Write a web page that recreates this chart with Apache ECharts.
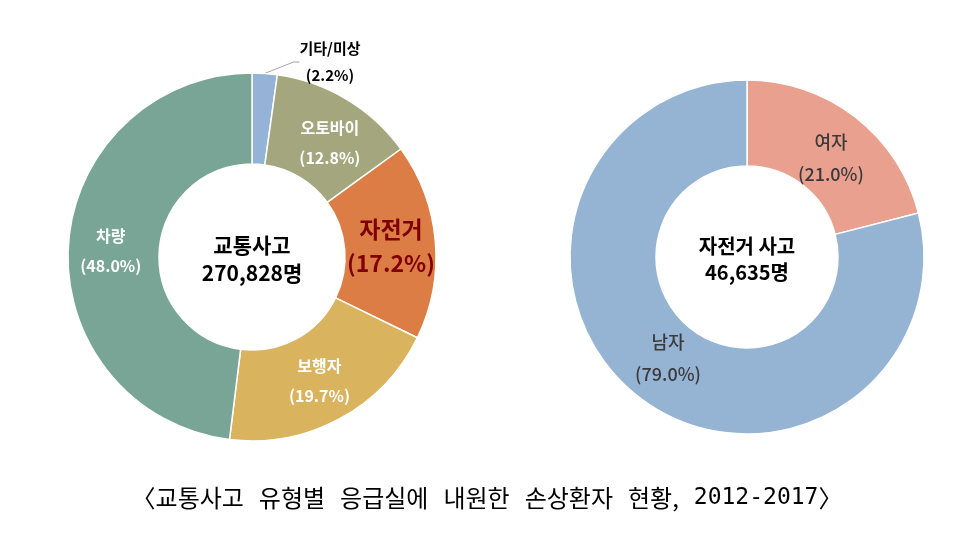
<!DOCTYPE html>
<html><head><meta charset="utf-8">
<script src="https://cdn.jsdelivr.net/npm/echarts@6/dist/echarts.min.js"></script>
<style>html,body{margin:0;padding:0;background:#fff}#c{width:974px;height:533px}</style>
</head><body><div id="c"></div>
<script>
const leftCategories = ['기타/미상','오토바이','자전거','보행자','차량'];
const leftValues = [2.2, 12.8, 17.2, 19.7, 48.0];
const leftColors = ['#95B3D7','#A4A77D','#DD7D46','#D9B35E','#79A597'];
const leftCenterTitle = '교통사고';
const leftCenterTotal = '270,828명';
const rightCategories = ['여자','남자'];
const rightValues = [21.0, 79.0];
const rightColors = ['#E9A08F','#95B3D3'];
const rightCenterTitle = '자전거 사고';
const rightCenterTotal = '46,635명';
const captionWords = ['〈교통사고', '유형별', '응급실에', '내원한', '손상환자', '현황,'];
const captionYears = '2012-2017';
const captionEnd = '〉';

const FONT = '"Noto Sans CJK KR", "Noto Sans", sans-serif';
const chart = echarts.init(document.getElementById('c'));

const fmt = p => p.name + '\n(' + p.value.toFixed(1) + '%)';

const leftData = leftCategories.map((n, i) => {
  const d = { name: n, value: leftValues[i], itemStyle: { color: leftColors[i] } };
  if (i === 0) {
    d.label = { position: 'outside', color: '#000', fontSize: 15, fontWeight: 'bold', lineHeight: 27 };
    d.labelLine = { show: true, length: 6, length2: 6, lineStyle: { color: '#a6a6a6', width: 1 } };
  } else if (n === '자전거') {
    d.label = { color: '#7F0000', fontSize: 23, fontWeight: 'bold', lineHeight: 34 };
  }
  return d;
});
const rightData = rightCategories.map((n, i) => ({ name: n, value: rightValues[i], itemStyle: { color: rightColors[i] } }));

const leftShift = { 1: [5, 7], 2: [-2, 1], 4: [0, 3] };
const rightShift = { 0: [0, 9], 1: [5, -7] };

const captionRich = captionWords.map(w => '{h|' + w + '}').join('{g| }') + '{g| }{d|' + captionYears + '}{h|' + captionEnd + '}';

chart.setOption({
  animation: false,
  title: {
    text: captionRich, left: 'center', top: 478,
    textStyle: {
      fontWeight: 'normal',
      rich: {
        h: { fontFamily: FONT, fontSize: 24, fontWeight: 'normal', color: '#000', height: 30 },
        g: { width: 15, fontSize: 21, fontWeight: 'normal', height: 30 },
        d: { fontFamily: '"DejaVu Sans Mono", monospace', fontSize: 23, fontWeight: 'normal', color: '#000', height: 30 }
      }
    }
  },
  graphic: [
    { type: 'text', x: 252, y: 259, style: { text: leftCenterTitle + '\n' + leftCenterTotal, textAlign: 'center', textVerticalAlign: 'middle', font: 'bold 21px ' + FONT, lineHeight: 28, fill: '#000' } },
    { type: 'text', x: 747, y: 259, style: { text: rightCenterTitle + '\n' + rightCenterTotal, textAlign: 'center', textVerticalAlign: 'middle', font: 'bold 20px ' + FONT, lineHeight: 26, fill: '#000' } }
  ],
  series: [
    {
      type: 'pie', center: [252, 257], radius: [93, 184], startAngle: 90, clockwise: true,
      itemStyle: { borderColor: '#fff', borderWidth: 1.5 },
      label: { position: 'inside', formatter: fmt, color: '#fff', fontFamily: FONT, fontSize: 16, fontWeight: 'bold', lineHeight: 30 },
      labelLine: { show: false },
      labelLayout: function (p) {
        if (p.dataIndex === 0) return { x: 330, y: 62, align: 'center', verticalAlign: 'middle' };
        const s = leftShift[p.dataIndex];
        return s ? { dx: s[0], dy: s[1] } : {};
      },
      data: leftData
    },
    {
      type: 'pie', center: [747, 257], radius: [91, 177], startAngle: 90, clockwise: true,
      itemStyle: { borderColor: '#fff', borderWidth: 1.5 },
      label: { position: 'inside', formatter: fmt, color: '#3a3a3a', fontFamily: FONT, fontSize: 18, fontWeight: 500, lineHeight: 32 },
      labelLine: { show: false },
      labelLayout: function (p) {
        const s = rightShift[p.dataIndex];
        return s ? { dx: s[0], dy: s[1] } : {};
      },
      data: rightData
    }
  ]
});
</script></body></html>
